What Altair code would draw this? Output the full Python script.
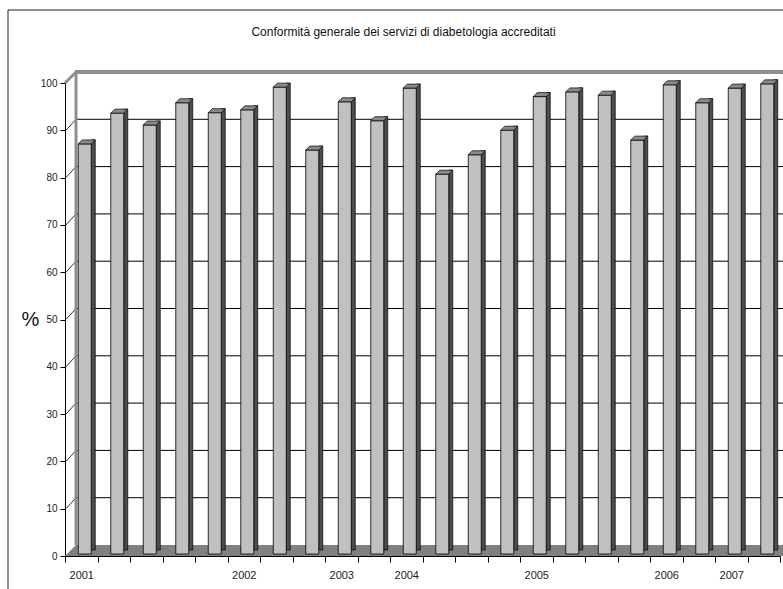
import altair as alt
import pandas as pd

# ---------------- data ----------------
title_text = "Conformità generale dei servizi di diabetologia accreditati"
y_title = "%"
period_labels = ["2001", "", "", "", "", "2002", "", "", "2003", "", "2004",
                 "", "", "", "2005", "", "", "", "2006", "", "2007", ""]
values = [86.7, 93.2, 90.7, 95.4, 93.3, 93.9, 98.7, 85.4, 95.6, 91.6, 98.5,
          80.3, 84.4, 89.6, 96.7, 97.7, 97.0, 87.5, 99.2, 95.4, 98.5, 99.4]
y_ticks = [0, 10, 20, 30, 40, 50, 60, 70, 80, 90, 100]
inner_grid = [10, 20, 30, 40, 50, 60, 70, 80, 90]

# ---------------- layout / style ----------------
W, H, D = 715, 473, 11
FONT = "Liberation Sans, Arial, sans-serif"
FRONT = "#c0c0c0"
SIDE = "#4d4d4d"
CAP = "#8a8a8a"
FLOOR = "#808080"
WALL = "#8e8e8e"

bars = pd.DataFrame({"idx": list(range(len(values))), "v": values})
grid = pd.DataFrame({"g": inner_grid})
one = pd.DataFrame({"k": [0]})

label_expr = "[" + ",".join("'%s'" % s for s in period_labels) + "][datum.value]"

x_enc = alt.X("idx:O",
              scale=alt.Scale(paddingInner=0, paddingOuter=0),
              axis=alt.Axis(title=None, tickBand="extent", tickSize=6,
                            labelExpr=label_expr, labelAngle=0,
                            labelOverlap=False, labelPadding=7,
                            labelFontSize=11, labelFont=FONT,
                            labelColor="#222222", domainColor="#000000",
                            tickColor="#000000", grid=False))
y_scale = alt.Scale(domain=[0, 100], nice=False, zero=True)
y_enc = alt.Y("v:Q", scale=y_scale,
              axis=alt.Axis(values=y_ticks, tickSize=5, labelPadding=3,
                            labelFontSize=10, labelFont=FONT,
                            labelColor="#222222", domainColor="#000000",
                            tickColor="#000000", grid=False,
                            title=y_title, titleAngle=0, titleFontSize=20,
                            titleFontWeight="normal", titleFont=FONT,
                            titleColor="#111111",
                            titleX=-35, titleY=H / 2, titleAlign="center",
                            titleBaseline="middle"))

# outer frame
frame = alt.Chart(one).mark_rect(filled=False, stroke="#222222", strokeWidth=1).encode(
    x=alt.value(-57), x2=alt.value(W + 60), y=alt.value(-73), y2=alt.value(H + 60))

# floor
floor = alt.Chart(one).mark_rect(color=FLOOR, yOffset=-D).encode(
    x=alt.value(D), x2=alt.value(W + D + 30),
    y=alt.Y(datum=0, scale=y_scale), y2=alt.datum(0))
floor_tri = alt.Chart(one).mark_point(
    shape="M -1 1 L 1 -1 L 1 1 Z", size=(D) ** 2, filled=True, fill=FLOOR,
    strokeWidth=0, opacity=1, yOffset=-D / 2).encode(
    x=alt.value(D / 2), y=alt.Y(datum=0, scale=y_scale))

# back wall gridlines
back_grid = alt.Chart(grid).mark_rule(color="#000000", strokeWidth=1, yOffset=-D).encode(
    y=alt.Y("g:Q", scale=y_scale), x=alt.value(D), x2=alt.value(W + D + 30))
side_grid = alt.Chart(grid).mark_rule(color="#000000", strokeWidth=0.8, y2Offset=-D).encode(
    y=alt.Y("g:Q", scale=y_scale), y2="g:Q", x=alt.value(1), x2=alt.value(D))

# wall edges
wall_top = alt.Chart(one).mark_rule(color=WALL, strokeWidth=4, yOffset=-D).encode(
    y=alt.Y(datum=100, scale=y_scale), x=alt.value(D - 1), x2=alt.value(W + D + 30))
wall_left = alt.Chart(one).mark_rule(color=WALL, strokeWidth=3, yOffset=-D, y2Offset=-D).encode(
    x=alt.value(D), y=alt.Y(datum=100, scale=y_scale), y2=alt.datum(0))
wall_diag = alt.Chart(one).mark_rule(color=WALL, strokeWidth=3, y2Offset=-D).encode(
    x=alt.value(0), x2=alt.value(D), y=alt.Y(datum=100, scale=y_scale), y2=alt.datum(100))

# 3D-looking bars
bar_side = alt.Chart(bars).mark_bar(width=4, xOffset=12, yOffset=-6, y2Offset=-4,
                                     color=SIDE, stroke="#000000", strokeWidth=0.7).encode(
    x=x_enc, y=y_enc)
bar_front = alt.Chart(bars).mark_bar(width=13, xOffset=3.5, yOffset=-2, y2Offset=-2,
                                      color=FRONT, stroke="#000000", strokeWidth=0.8).encode(
    x=x_enc, y=y_enc)
cap_path = "M -1 0.235 L 0.529 0.235 L 1 -0.235 L -0.529 -0.235 Z"
bar_cap = alt.Chart(bars).mark_point(shape=cap_path, size=289, filled=True, fill=CAP,
                                      stroke="#000000", strokeWidth=0.7, opacity=1,
                                      xOffset=5.5, yOffset=-4).encode(
    x=x_enc, y=y_enc)

title = alt.Chart(pd.DataFrame({"t": [title_text]})).mark_text(
    font=FONT, fontSize=12, color="#111111", align="center", baseline="middle").encode(
    text="t:N", x=alt.value(403.5 - 65), y=alt.value(32 - 83))

chart = alt.layer(
    frame, floor, floor_tri, back_grid, side_grid, wall_top, wall_left, wall_diag,
    bar_side, bar_front, bar_cap, title
).properties(
    width=W, height=H,
    autosize=alt.AutoSizeParams(type="none"),
    padding={"left": 65, "top": 83, "right": 3, "bottom": 33},
    background="white",
).configure_view(stroke=None)

chart.save("out.html", embed_options={"renderer": "svg", "actions": False})
